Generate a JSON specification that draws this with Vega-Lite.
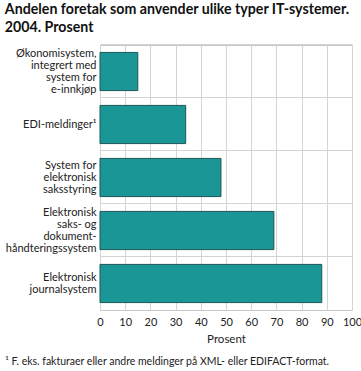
{
  "$schema": "https://vega.github.io/schema/vega-lite/v6.json",
  "background": "white",
  "padding": {"left": 4, "top": 3, "right": 6, "bottom": 2},
  "config": {
    "font": "Lato",
    "view": {"stroke": "#c8c8c8"},
    "axis": {"labelFont": "Lato", "titleFont": "Lato", "labelColor": "#222", "titleColor": "#222", "labelFontSize": 11, "titleFontSize": 11.5, "titleFontWeight": "normal", "gridColor": "#d4d4d4", "domain": false, "ticks": false}
  },
  "title": {"text": ["Andelen foretak som anvender ulike typer IT-systemer.", "2004. Prosent"], "anchor": "start", "frame": "bounds", "font": "Lato", "fontSize": 14.2, "fontWeight": "bold", "color": "#111", "lineHeight": 18, "offset": 9},
  "vconcat": [
    {
      "width": 252,
      "height": 265,
      "title": {"text": "¹ F. eks. fakturaer eller andre meldinger på XML- eller EDIFACT-format.", "orient": "bottom", "anchor": "start", "frame": "bounds", "font": "Lato", "fontSize": 10.5, "fontWeight": "normal", "color": "#222", "offset": 12},
      "data": {"values": [
        {"kategori": "Økonomisystem,|integrert med|system for|e-innkjøp", "prosent": 15},
        {"kategori": "EDI-meldinger¹", "prosent": 34},
        {"kategori": "System for|elektronisk|saksstyring", "prosent": 48},
        {"kategori": "Elektronisk|saks- og|dokument-|håndteringssystem", "prosent": 69},
        {"kategori": "Elektronisk|journalsystem", "prosent": 88}
      ]},
      "mark": {"type": "bar", "color": "#1a9696", "stroke": "#1d5656", "strokeWidth": 1},
      "encoding": {
        "y": {"field": "kategori", "type": "nominal", "sort": null,
              "scale": {"paddingInner": 0.28, "paddingOuter": 0.14},
              "axis": {"title": null, "labelExpr": "split(datum.label, '|')", "labelLimit": 200, "labelLineHeight": 12, "labelPadding": 4, "grid": true, "bandPosition": -0.2,
                       "labelOffset": {"condition": [
                         {"test": "length(split(datum.label, '|')) == 4", "value": -18},
                         {"test": "length(split(datum.label, '|')) == 3", "value": -12},
                         {"test": "length(split(datum.label, '|')) == 2", "value": -6}
                       ], "value": 0}}},
        "x": {"field": "prosent", "type": "quantitative",
              "scale": {"domain": [0, 100], "nice": false},
              "axis": {"title": "Prosent", "values": [0,10,20,30,40,50,60,70,80,90,100], "labelOverlap": false, "labelFlush": false, "grid": true, "labelPadding": 6, "titlePadding": 6}}
      }
    }
  ]
}
